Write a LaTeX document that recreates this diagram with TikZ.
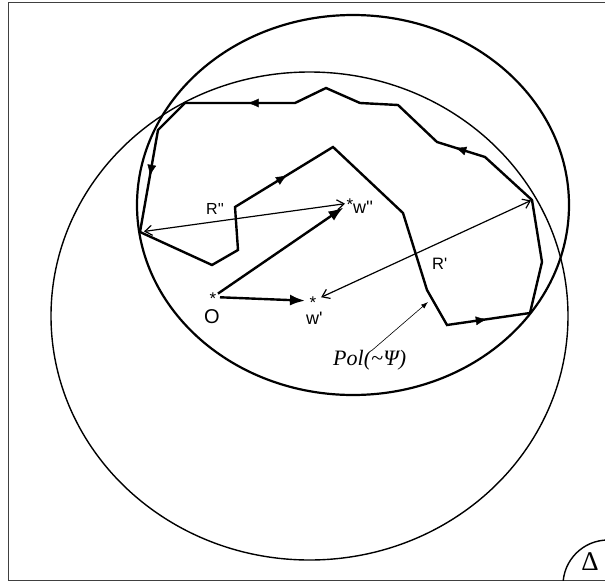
\documentclass[tikz,border=0pt]{standalone}
\usepackage{fontspec}
\setmainfont{Liberation Serif}
\newfontfamily\arial{Liberation Sans}
\usetikzlibrary{arrows.meta,decorations.markings}

\tikzset{
  marc/.style={line width=1.3pt, draw=black!75},
  fina/.style={line width=1.4pt},
  gruixuda/.style={line width=2.2pt},
  cami/.style={line width=2.4pt, line join=miter},
  vec/.style={-{Latex[length=15pt,width=11pt]}, line width=2.4pt},
  radi/.style={{Straight Barb[length=7pt,width=10pt]}-{Straight Barb[length=7pt,width=10pt]}, line width=1.2pt},
  punter/.style={-{Latex[length=7pt,width=5pt]}, line width=0.6pt},
  marca/.style={postaction={decorate},
    decoration={markings, mark=at position #1 with {\arrow{Latex[length=11pt,width=9pt]}}}},
  estrella/.style={font=\arial\fontsize{17}{17}\selectfont, inner sep=0pt},
  etiq/.style={font=\arial\fontsize{#1}{#1}\selectfont, inner sep=0pt, anchor=base west},
}
\newcommand{\estel}{\raisebox{-0.86em}{\smash{*}}}

\begin{document}
\begin{tikzpicture}[x=1pt, y=-1pt, >=Stealth]

\useasboundingbox (0,0) rectangle (605,584);
\clip (0,0) rectangle (605,584);

% Marc
\draw[marc] (8.5,2.5) rectangle (620,580.5);

% El·lipses
\draw[fina] (309.5,316) ellipse [x radius=258.5, y radius=244];
\draw[gruixuda] (353,205) ellipse [x radius=216, y radius=190];

% Poligonal
\coordinate (P1) at (140,232);
\coordinate (P2) at (212,265);
\coordinate (P3) at (238,250);
\coordinate (P4) at (235,207);
\coordinate (P5) at (333,147);
\coordinate (P6) at (403,213);
\coordinate (P7) at (427,290);
\coordinate (P8) at (447,325);
\coordinate (P9) at (530,313);
\coordinate (P10) at (542,262);
\coordinate (P11) at (532,200);
\coordinate (P12) at (485,157);
\coordinate (P13) at (437,142);
\coordinate (P14) at (398,105);
\coordinate (P15) at (360,103);
\coordinate (P16) at (326,88);
\coordinate (P17) at (295,103);
\coordinate (P18) at (185,103);
\coordinate (P19) at (158,130);

\draw[cami] (P1) -- (P2) -- (P3) -- (P4) -- (P5) -- (P6) -- (P7) -- (P8)
  -- (P9) -- (P10) -- (P11) -- (P12) -- (P13) -- (P14) -- (P15) -- (P16)
  -- (P17) -- (P18) -- (P19) -- cycle;

% Sentit
\path[marca=0.53] (P4) -- (P5);
\path[marca=0.48] (P8) -- (P9);
\path[marca=0.62] (P12) -- (P13);
\path[marca=0.43] (P17) -- (P18);
\path[marca=0.45] (P19) -- (P1);

% Punts
\coordinate (O) at (213,297);
\coordinate (Wa) at (313,301);
\coordinate (Wb) at (350,203);
\node[estrella] (Ostar) at (O) {\estel};
\node[estrella] (Wastar) at (Wa) {\estel};
\node[estrella] (Wbstar) at (Wb) {\estel};

% Vectors
\draw[vec, shorten <=7pt, shorten >=8pt] (O) -- (Wa);
\draw[vec, shorten <=6pt, shorten >=8pt] (O) -- (Wb);

% Radis
\draw[radi, shorten <=4pt, shorten >=5pt] (P1) -- (Wb);
\draw[radi, shorten <=9pt, shorten >=1pt] (Wa) -- (P11);

% Etiquetes
\node[etiq=20, anchor=center] (lO) at (212,317) {O};
\node[etiq=18] (lWa) at (306,324.5) {w'};
\node[etiq=18] (lWb) at (353,213) {w''};
\node[etiq=16] (lRb) at (206,214) {R''};
\node[etiq=16.5] (lRa) at (432,269) {R'};

% Pol
\node[font=\itshape\fontsize{22}{22}\selectfont, inner sep=0pt, anchor=base west]
  (pol) at (333,365) {Pol(\char"7E\kern0.5pt Ψ)};
\coordinate (polTip) at (428,302);
\draw[punter] (pol.north) ++(2,1) -- (polTip);

% Delta
\begin{scope}
\clip (8.5,2.5) rectangle (605,580);
\draw[fina] (608,585) circle[radius=45];
\end{scope}
\node[font=\fontsize{27}{27}\selectfont, inner sep=0pt, anchor=base] (delta) at (590,570) {Δ};

\end{tikzpicture}
\end{document}
